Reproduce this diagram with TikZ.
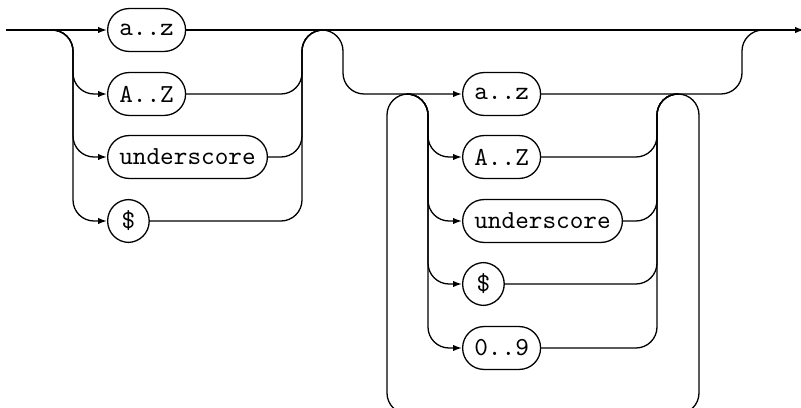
\documentclass[tikz,border=0pt]{standalone}
\usetikzlibrary{arrows.meta}
\tikzset{
  term/.style={draw, rounded corners=8.2pt, minimum height=16.5pt, minimum width=16pt, inner xsep=4.5pt, font=\ttfamily},
  rail/.style={rounded corners=8.1pt},
  into/.style={-{Latex[length=3.4pt,width=2.4pt]}}
}
\begin{document}
\begin{tikzpicture}[x=0.385pt, y=-0.385pt, line width=0.5pt]
  \useasboundingbox (0,0) rectangle (801,408);
  % rail points
  \coordinate (in) at (6,30);
  \coordinate (out) at (804,30);
  \coordinate (s1) at (52,30);
  \coordinate (L1) at (73,30);
  \coordinate (R1) at (302,30);
  \coordinate (j1) at (322,30);
  \coordinate (L2) at (343,94);
  \coordinate (k1) at (407,94);
  \coordinate (L4) at (428,94);
  \coordinate (R4) at (657,94);
  \coordinate (k2) at (678,94);
  \coordinate (B1) at (699,414);
  \coordinate (B2) at (387,94);
  \coordinate (R2) at (742,30);
  \coordinate (j2) at (763,30);
  % first choice
  \foreach \n/\t/\y in {a/a..z/30, b/A..Z/94, c/underscore/157, d/\$/221}
    \node[term, anchor=west] (f\n) at (107,\y) {\t};
  % second choice, repeated
  \foreach \n/\t/\y in {a/a..z/94, b/A..Z/157, c/underscore/221, d/\$/284, e/0..9/348}
    \node[term, anchor=west] (s\n) at (462,\y) {\t};
  % main line
  \draw[into] (in) -- (fa.west);
  \draw[into] (fa.east) -- (out);
  \foreach \n in {b,c,d} {
    \draw[rail,into] (s1) -| (L1 |- f\n.west) -- (f\n.west);
    \draw[rail] (f\n.east) -| (R1) -- (j1);
  }
  % optional tail
  \draw[rail,into] (j1) -| (L2) -- (sa.west);
  \foreach \n in {b,c,d,e} {
    \draw[rail,into] (k1) -| (L4 |- s\n.west) -- (s\n.west);
    \draw[rail] (s\n.east) -| (R4) -- (k2);
  }
  \draw[rail] (sa.east) -| (R2) -- (j2);
  % loop back
  \draw[rail] (k2) -| (B1) -| (B2) -- (k1);
\end{tikzpicture}
\end{document}
